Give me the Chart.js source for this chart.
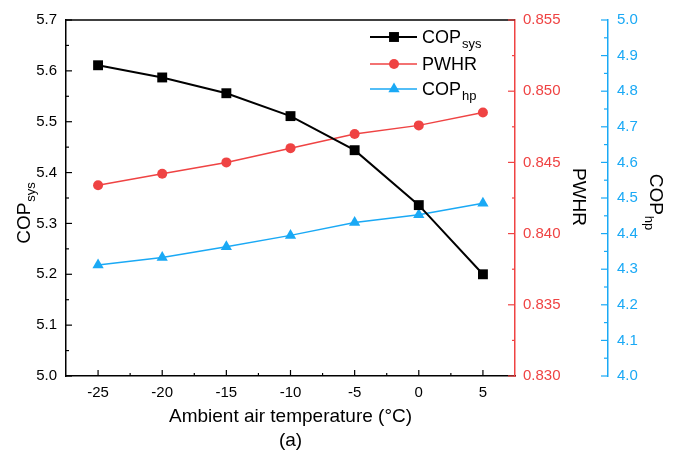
<!DOCTYPE html>
<html>
<head>
<meta charset="utf-8">
<script src="https://cdn.jsdelivr.net/npm/chart.js@4.4.0/dist/chart.umd.min.js"></script>
<style>
  html, body { margin: 0; padding: 0; background: #fff; }
  #wrap { width: 681px; height: 454px; }
</style>
</head>
<body>
<div id="wrap"><canvas id="c" width="681" height="454"></canvas></div>
<script>
const temps = [-25, -20, -15, -10, -5, 0, 5];
const copSys = [5.611, 5.587, 5.556, 5.511, 5.444, 5.336, 5.200];
const pwhr = [0.8434, 0.8442, 0.8450, 0.8460, 0.8470, 0.8476, 0.8485];
const copHp = [4.312, 4.333, 4.363, 4.395, 4.431, 4.453, 4.485];

const xTicks = [-25, -20, -15, -10, -5, 0, 5];

const RED = "#ef4343";
const BLUE = "#1aa9f5";
const FONT = "Liberation Sans, Arial, sans-serif";

function pts(ys) {
  return temps.map((t, i) => ({ x: t, y: ys[i] }));
}

// text with a subscript
function subText(ctx, main, sub, x, y, size) {
  ctx.font = size + "px " + FONT;
  ctx.fillText(main, x, y);
  const w = ctx.measureText(main).width;
  if (!sub) return w;
  ctx.font = Math.round(size * 0.7) + "px " + FONT;
  ctx.fillText(sub, x + w + 1, y + 5);
  return w + ctx.measureText(sub).width + 1;
}
function subWidth(ctx, main, sub, size) {
  ctx.font = size + "px " + FONT;
  let w = ctx.measureText(main).width;
  if (sub) {
    ctx.font = Math.round(size * 0.7) + "px " + FONT;
    w += ctx.measureText(sub).width + 1;
  }
  return w;
}
function rotTitle(ctx, main, sub, x, y, ang, size) {
  const w = subWidth(ctx, main, sub, size);
  ctx.save();
  ctx.translate(x, y);
  ctx.rotate(ang);
  subText(ctx, main, sub, -w / 2, 0, size);
  ctx.restore();
}

const decor = {
  id: "decor",
  afterDraw(chart) {
    const ctx = chart.ctx;
    const a = chart.chartArea;
    const sx = chart.scales.x, sy = chart.scales.y, s1 = chart.scales.y1, s2 = chart.scales.y2;
    ctx.save();

    // top frame
    ctx.strokeStyle = "#000";
    ctx.lineWidth = 1.5;
    ctx.beginPath();
    ctx.moveTo(a.left, a.top);
    ctx.lineTo(a.right, a.top);
    ctx.stroke();

    // inward ticks on x
    function tickX(v, len) {
      const px = sx.getPixelForValue(v);
      ctx.beginPath();
      ctx.moveTo(px, a.bottom);
      ctx.lineTo(px, a.bottom - len);
      ctx.stroke();
    }
    ctx.lineWidth = 1.2;
    xTicks.forEach((v, i) => {
      tickX(v, 6);
      if (i < xTicks.length - 1) tickX(v + 2.5, 3);
    });

    function tickY(scale, x0, dir, min, max, step, len, mlen) {
      const n = Math.round((max - min) / step);
      for (let i = 0; i <= n; i++) {
        const v = min + i * step;
        const py = scale.getPixelForValue(v);
        ctx.beginPath();
        ctx.moveTo(x0, py);
        ctx.lineTo(x0 + dir * len, py);
        ctx.stroke();
        if (i < n) {
          const pm = scale.getPixelForValue(v + step / 2);
          ctx.beginPath();
          ctx.moveTo(x0, pm);
          ctx.lineTo(x0 + dir * mlen, pm);
          ctx.stroke();
        }
      }
    }
    ctx.strokeStyle = "#000";
    tickY(sy, a.left, 1, 5.0, 5.7, 0.1, 6, 3);
    ctx.strokeStyle = RED;
    tickY(s1, a.right, -1, 0.830, 0.855, 0.005, 7, 3);
    ctx.strokeStyle = BLUE;
    tickY(s2, s2.left, -1, 4.0, 5.0, 0.1, 7, 4);

    // axis titles
    ctx.fillStyle = "#000";
    ctx.textBaseline = "alphabetic";
    ctx.textAlign = "left";
    rotTitle(ctx, "COP", "sys", 30, 213, -Math.PI / 2, 19);
    rotTitle(ctx, "PWHR", "", 573, 197, Math.PI / 2, 19);
    rotTitle(ctx, "COP", "hp", 650, 202, Math.PI / 2, 19);

    // x title
    ctx.textAlign = "center";
    ctx.font = "19px " + FONT;
    ctx.fillText("Ambient air temperature (\u00B0C)", (a.left + a.right) / 2, 422);
    ctx.fillText("(a)", (a.left + a.right) / 2, 446);

    // legend
    ctx.textAlign = "left";
    const items = [
      { c: "#000", lw: 2, style: "rect", r: 7, main: "COP", sub: "sys", y: 37 },
      { c: RED, lw: 1.5, style: "circle", r: 5, main: "PWHR", sub: "", y: 64 },
      { c: BLUE, lw: 1.5, style: "triangle", r: 6.5, main: "COP", sub: "hp", y: 89 },
    ];
    items.forEach((it) => {
      ctx.strokeStyle = it.c;
      ctx.fillStyle = it.c;
      ctx.lineWidth = it.lw;
      ctx.beginPath();
      ctx.moveTo(370, it.y);
      ctx.lineTo(417, it.y);
      ctx.stroke();
      Chart.helpers.drawPoint(ctx, { pointStyle: it.style, radius: it.r, rotation: 0, borderWidth: 0 }, 394, it.y);
      ctx.fillStyle = "#000";
      subText(ctx, it.main, it.sub, 422, it.y + 6, 18);
    });

    ctx.restore();
  },
};

const tickFont = { family: FONT, size: 15 };

new Chart(document.getElementById("c"), {
  type: "line",
  data: {
    datasets: [
      {
        label: "COPsys",
        data: pts(copSys),
        yAxisID: "y",
        borderColor: "#000",
        backgroundColor: "#000",
        borderWidth: 2,
        pointStyle: "rect",
        pointRadius: 7,
        pointBorderWidth: 0,
        tension: 0,
      },
      {
        label: "PWHR",
        data: pts(pwhr),
        yAxisID: "y1",
        borderColor: RED,
        backgroundColor: RED,
        borderWidth: 1.5,
        pointStyle: "circle",
        pointRadius: 5,
        pointBorderWidth: 0,
        tension: 0,
      },
      {
        label: "COPhp",
        data: pts(copHp),
        yAxisID: "y2",
        borderColor: BLUE,
        backgroundColor: BLUE,
        borderWidth: 1.5,
        pointStyle: "triangle",
        pointRadius: 6.5,
        pointBorderWidth: 0,
        tension: 0,
      },
    ],
  },
  options: {
    responsive: false,
    animation: false,
    layout: { padding: { top: 20, left: 0, right: 0, bottom: 0 } },
    plugins: {
      legend: { display: false },
      tooltip: { enabled: false },
    },
    scales: {
      x: {
        type: "linear",
        min: -27.5,
        max: 7.5,
        afterBuildTicks: (s) => { s.ticks = xTicks.map((v) => ({ value: v })); },
        afterFit: (s) => { s.height = 78; },
        grid: { display: false, drawTicks: false },
        border: { color: "#000", width: 1.5 },
        ticks: { font: tickFont, color: "#000", padding: 8, maxRotation: 0 },
      },
      y: {
        position: "left",
        min: 5.0,
        max: 5.7,
        afterFit: (s) => { s.width = 66; },
        grid: { display: false, drawTicks: false },
        border: { color: "#000", width: 1.5 },
        ticks: { stepSize: 0.1, font: tickFont, color: "#000", padding: 9, callback: (v) => v.toFixed(1) },
      },
      y1: {
        position: "right",
        weight: 0,
        min: 0.83,
        max: 0.855,
        afterFit: (s) => { s.width = 93; },
        grid: { display: false, drawTicks: false },
        border: { color: RED, width: 1.5 },
        ticks: { stepSize: 0.005, font: tickFont, color: RED, padding: 8, callback: (v) => v.toFixed(3) },
      },
      y2: {
        position: "right",
        weight: 1,
        min: 4.0,
        max: 5.0,
        afterFit: (s) => { s.width = 73; },
        grid: { display: false, drawTicks: false },
        border: { color: BLUE, width: 1.5 },
        ticks: { stepSize: 0.1, font: tickFont, color: BLUE, padding: 9, callback: (v) => v.toFixed(1) },
      },
    },
  },
  plugins: [decor],
});
</script>
</body>
</html>
